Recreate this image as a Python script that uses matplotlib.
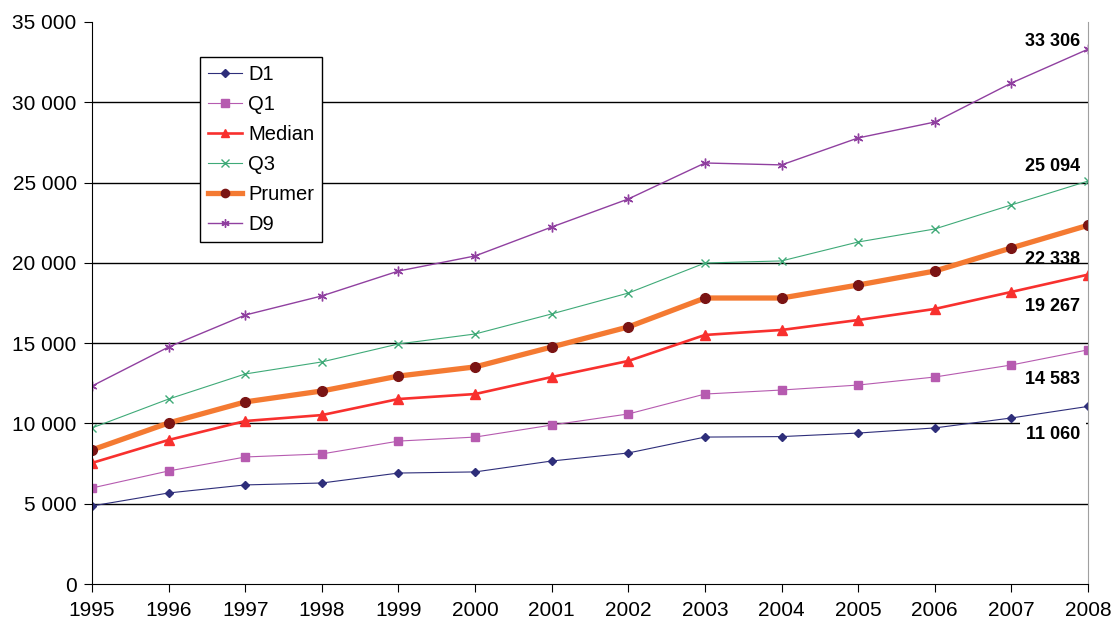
import matplotlib.pyplot as plt
from matplotlib.ticker import FuncFormatter, MultipleLocator

plt.rcParams["font.family"] = ["Liberation Sans", "DejaVu Sans"]

# --- Data ---
years = list(range(1995, 2009))
d1 = [4860, 5670, 6170, 6290, 6910, 6980, 7660, 8160, 9150, 9180, 9400, 9720, 10340, 11060]
q1 = [5980, 7040, 7910, 8100, 8900, 9150, 9900, 10590, 11830, 12080, 12390, 12890, 13640, 14583]
median = [7540, 8970, 10150, 10520, 11520, 11830, 12890, 13890, 15510, 15820, 16440, 17130, 18190, 19267]
q3 = [9720, 11520, 13080, 13830, 14950, 15570, 16820, 18120, 19990, 20120, 21300, 22110, 23610, 25094]
prumer = [8350, 10030, 11340, 12020, 12950, 13520, 14760, 16010, 17810, 17810, 18620, 19490, 20930, 22338]
d9 = [12330, 14760, 16750, 17940, 19490, 20430, 22230, 23980, 26220, 26100, 27780, 28770, 31200, 33306]

# --- Plot ---
fig = plt.figure(figsize=(11.14, 6.23), dpi=100)
ax = fig.add_axes([0.0826, 0.0626, 0.8941, 0.9021])

ax.plot(years, d1, color="#2E2E7A", lw=0.8, marker="D", ms=4.5, label="D1")
ax.plot(years, q1, color="#B65BB0", lw=0.8, marker="s", ms=6, label="Q1")
ax.plot(years, median, color="#F8302E", lw=1.9, marker="^", ms=7, label="Median")
ax.plot(years, q3, color="#3FAA78", lw=0.8, marker="x", ms=6, mew=1.0, label="Q3")
ax.plot(years, prumer, color="#F47A32", lw=3.8, marker="o", ms=7,
        mfc="#7A1414", mec="#7A1414", label="Prumer")
ax.plot(years, d9, color="#9040A0", lw=1.0, marker=(6, 2, 0), ms=7, mew=1.0, label="D9")

# --- Value labels for 2008 ---
last_labels = [
    (d9[-1], 8, None),
    (q3[-1], 15, None),
    (prumer[-1], -34, None),
    (median[-1], -32, None),
    (q1[-1], -30, None),
    (d1[-1], -28, "white"),
]
for value, dy, bg in last_labels:
    bbox = dict(facecolor=bg, edgecolor="none", pad=4) if bg else None
    ax.annotate(f"{value:,}".replace(",", " "), xy=(years[-1], value),
                xytext=(-8, dy), textcoords="offset pixels",
                ha="right", va="center", fontsize=13, fontweight="bold",
                bbox=bbox, zorder=5)

# --- Axes styling ---
ax.set_xlim(1995, 2008)
ax.set_ylim(0, 35000)
ax.set_xticks(years)
ax.yaxis.set_major_locator(MultipleLocator(5000))
ax.yaxis.set_major_formatter(FuncFormatter(lambda v, _: f"{int(v):,}".replace(",", " ")))
ax.tick_params(axis="both", labelsize=15, direction="out", length=6, color="black")
ax.tick_params(axis="x", pad=6)
ax.tick_params(axis="y", pad=5)

for y in range(5000, 35000, 5000):
    ax.axhline(y, color="black", lw=1.0, zorder=0)

ax.spines["top"].set_visible(False)
ax.spines["right"].set_color("#A0A0A0")
ax.spines["left"].set_color("black")
ax.spines["bottom"].set_color("black")

leg = ax.legend(loc="upper left", bbox_to_anchor=(0.1084, 0.938), fontsize=14.5,
                frameon=True, fancybox=False, framealpha=1, edgecolor="black",
                handlelength=1.7, borderpad=0.4, labelspacing=0.55, handletextpad=0.3,
                borderaxespad=0, markerscale=0.85)
leg.get_frame().set_linewidth(1.0)

plt.savefig("out.png", dpi=100)
plt.close()
